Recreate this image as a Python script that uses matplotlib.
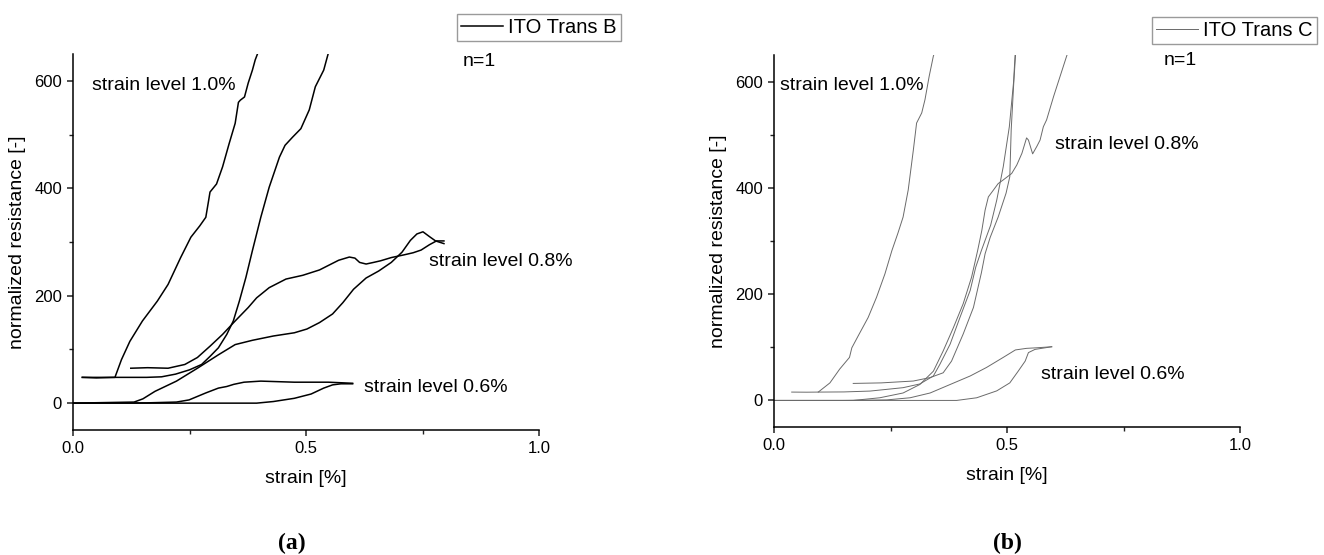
import numpy as np
import matplotlib.pyplot as plt
from matplotlib.ticker import MultipleLocator

plt.rcParams['font.family'] = ['Liberation Sans', 'DejaVu Sans']

# --- datos (a): ITO Trans B ---
b10_load_x = [0.02, 0.05, 0.09, 0.104, 0.122, 0.149, 0.181, 0.204, 0.231, 0.253, 0.272, 0.285, 0.291,
              0.294, 0.308, 0.321, 0.335, 0.348, 0.355, 0.359, 0.368, 0.376, 0.385, 0.391, 0.398]
b10_load_y = [48, 47, 48, 81, 115, 153, 190, 221, 271, 309, 330, 346, 377,
              393, 408, 440, 483, 521, 560, 564, 570, 596, 620, 639, 655]
b10_unl_x = [0.549, 0.538, 0.520, 0.507, 0.489, 0.471, 0.455, 0.443, 0.421, 0.403, 0.385, 0.371, 0.357,
             0.344, 0.330, 0.312, 0.294, 0.276, 0.25, 0.22, 0.19, 0.158, 0.10, 0.02]
b10_unl_y = [655, 620, 589, 546, 511, 495, 480, 458, 402, 346, 284, 234, 190,
             153, 128, 103, 87, 72, 62, 54, 49, 48, 48, 48]
b08_load_x = [0.0, 0.131, 0.15, 0.176, 0.222, 0.267, 0.312, 0.348, 0.385, 0.43, 0.475, 0.502, 0.529, 0.557,
              0.579, 0.602, 0.629, 0.656, 0.683, 0.706, 0.724, 0.738, 0.751, 0.765, 0.778, 0.796]
b08_load_y = [0, 2, 8, 22, 41, 65, 90, 109, 117, 125, 131, 138, 150, 166,
              187, 212, 233, 246, 262, 281, 303, 315, 319, 310, 302, 297]
b08_unl_x = [0.796, 0.78, 0.765, 0.747, 0.73, 0.71, 0.683, 0.66, 0.645, 0.629, 0.615, 0.605, 0.593, 0.57,
             0.529, 0.493, 0.457, 0.421, 0.394, 0.376, 0.348, 0.321, 0.294, 0.267, 0.24, 0.204, 0.16, 0.124]
b08_unl_y = [302, 302, 295, 285, 280, 276, 271, 265, 262, 259, 262, 270, 272, 266,
             248, 238, 231, 215, 196, 178, 153, 128, 106, 85, 72, 65, 66, 65]
b06_load_x = [0.0, 0.394, 0.43, 0.475, 0.511, 0.538, 0.557, 0.575, 0.60]
b06_load_y = [0, 0, 3, 9, 17, 28, 34, 36, 36]
b06_unl_x = [0.60, 0.548, 0.475, 0.403, 0.367, 0.345, 0.330, 0.312, 0.285, 0.249, 0.222, 0.158, 0.0]
b06_unl_y = [37, 39, 39, 41, 39, 35, 31, 28, 19, 6, 2, 0.5, 0]

# --- datos (b): ITO Trans C ---
c10_load_x = [0.038, 0.07, 0.095, 0.120, 0.141, 0.162, 0.167, 0.181, 0.202, 0.220, 0.238, 0.253, 0.266,
              0.277, 0.288, 0.299, 0.306, 0.317, 0.324, 0.333, 0.342, 0.347]
c10_load_y = [15.7, 15.5, 15.7, 33, 59, 81, 99, 122, 156, 194, 238, 282, 315,
              345, 396, 471, 522, 541, 566, 610, 648, 660]
c08_a_x = [0.0, 0.17, 0.227, 0.277, 0.313, 0.342, 0.363, 0.385, 0.406, 0.424, 0.437, 0.446, 0.453, 0.460,
           0.471, 0.481, 0.492, 0.510, 0.521, 0.532, 0.542, 0.546, 0.555, 0.564, 0.571, 0.578, 0.585,
           0.600, 0.614, 0.628, 0.633]
c08_a_y = [0, 0, 5, 14, 30, 55, 93, 137, 182, 232, 282, 320, 358, 383,
           396, 408, 415, 427, 443, 465, 494, 490, 464, 478, 490, 515, 528,
           572, 610, 648, 660]
c08_b_x = [0.095, 0.15, 0.206, 0.277, 0.313, 0.342, 0.356, 0.378, 0.399, 0.421, 0.433, 0.445, 0.465,
           0.478, 0.492, 0.505, 0.514, 0.518]
c08_b_y = [15.7, 16, 17.6, 24, 31, 46, 68, 106, 156, 207, 251, 282, 330,
           377, 440, 515, 598, 660]
c08_c_x = [0.17, 0.23, 0.299, 0.335, 0.363, 0.381, 0.406, 0.428, 0.445, 0.453, 0.464, 0.481, 0.498,
           0.506, 0.509, 0.514, 0.519]
c08_c_y = [32, 33, 36.5, 43, 52, 74, 125, 175, 240, 276, 307, 345, 390,
           421, 509, 590, 660]
c06_load_x = [0.0, 0.392, 0.435, 0.478, 0.506, 0.524, 0.539, 0.546, 0.560, 0.596]
c06_load_y = [0, 0, 5, 18, 33, 55, 74, 90, 96, 101]
c06_unl_x = [0.596, 0.563, 0.542, 0.518, 0.492, 0.456, 0.421, 0.378, 0.335, 0.292, 0.242, 0.15, 0.0]
c06_unl_y = [101, 99, 98, 95, 81, 62, 46, 30, 14, 5, 1, 0, 0]

paneles = [
    dict(rect=[73/1324, 1-430/555, 466/1324, 376/555], nombre='ITO Trans B', color='black', lw=1.1,
         curvas=[(b10_load_x, b10_load_y), (b10_unl_x, b10_unl_y), (b08_load_x, b08_load_y),
                 (b08_unl_x, b08_unl_y), (b06_load_x, b06_load_y), (b06_unl_x, b06_unl_y)],
         textos=[(0.041, 592, 'strain level 1.0%'), (0.763, 263, 'strain level 0.8%'),
                 (0.625, 29, 'strain level 0.6%'), (0.837, 636, 'n=1')],
         leyenda=(621/1324, 1-14/555), letra=(292/1324, '(a)')),
    dict(rect=[774/1324, 1-427/555, 466/1324, 372/555], nombre='ITO Trans C', color='#6a6a6a', lw=0.7,
         curvas=[(c10_load_x, c10_load_y), (c08_a_x, c08_a_y), (c08_b_x, c08_b_y), (c08_c_x, c08_c_y),
                 (c06_load_x, c06_load_y), (c06_unl_x, c06_unl_y)],
         textos=[(0.013, 593, 'strain level 1.0%'), (0.604, 481, 'strain level 0.8%'),
                 (0.572, 49, 'strain level 0.6%'), (0.837, 639, 'n=1')],
         leyenda=(1317/1324, 1-17/555), letra=(1007/1324, '(b)')),
]

fig = plt.figure(figsize=(13.24, 5.55), dpi=100)

for p in paneles:
    ax = fig.add_axes(p['rect'])
    for i, (xs, ys) in enumerate(p['curvas']):
        ax.plot(xs, ys, color=p['color'], lw=p['lw'], label=p['nombre'] if i == 0 else None)
    ax.set_xlim(0, 1.0)
    ax.set_ylim(-50, 650)
    ax.spines['top'].set_visible(False)
    ax.spines['right'].set_visible(False)
    for s in ['left', 'bottom']:
        ax.spines[s].set_linewidth(1.1)
    ax.xaxis.set_major_locator(MultipleLocator(0.5))
    ax.xaxis.set_minor_locator(MultipleLocator(0.25))
    ax.yaxis.set_major_locator(MultipleLocator(200))
    ax.yaxis.set_minor_locator(MultipleLocator(100))
    ax.set_xticks([0.0, 0.5, 1.0], ['0.0', '0.5', '1.0'])
    ax.tick_params(which='major', direction='out', length=4.5, width=1.1, labelsize=12, color='#222')
    ax.tick_params(which='minor', direction='out', length=3, width=1.0, color='#222')
    ax.set_xlabel('strain [%]', fontsize=14, labelpad=10)
    ax.set_ylabel('normalized resistance [-]', fontsize=14, labelpad=6)
    for tx, ty, t in p['textos']:
        ax.text(tx, ty, t, fontsize=14, va='center', ha='left')
    ax.legend(loc='upper right', bbox_to_anchor=p['leyenda'], bbox_transform=fig.transFigure,
              fontsize=14.5, frameon=True, fancybox=False, edgecolor='#9a9a9a', framealpha=1,
              handlelength=2.1, handletextpad=0.25, borderpad=0.2, borderaxespad=0)
    fig.text(p['letra'][0], 1-543/555, p['letra'][1], fontsize=17, fontweight='bold',
             family='Liberation Serif', ha='center', va='center')

fig.savefig('out.png', dpi=100)
